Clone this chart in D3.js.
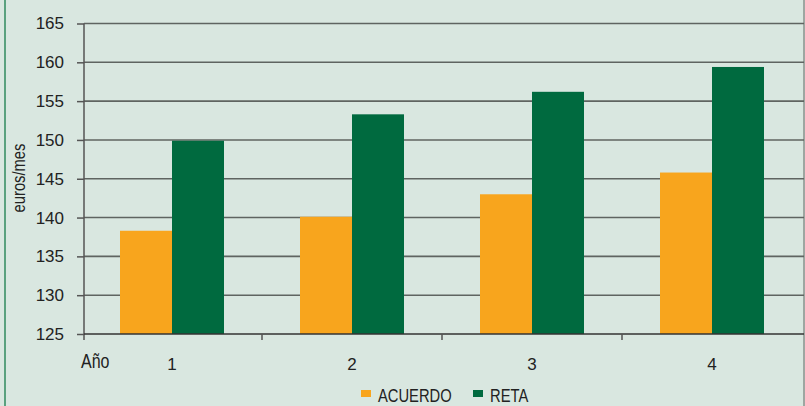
<!DOCTYPE html>
<html>
<head>
<meta charset="utf-8">
<script src="https://cdn.jsdelivr.net/npm/d3@7"></script>
<style>
  body { margin: 0; background: #d9e7e0; }
  svg { display: block; font-family: "Liberation Sans", Arial, sans-serif; }
</style>
</head>
<body>
<script>
const years = ["1", "2", "3", "4"];
const series = ["ACUERDO", "RETA"];
const acuerdo = [138.3, 140.1, 143.0, 145.8];
const reta = [149.9, 153.3, 156.2, 159.4];
const yTicks = [125, 130, 135, 140, 145, 150, 155, 160, 165];
const colors = ["#f8a51d", "#006a3f"];

const W = 805, H = 406;
const squeeze = 0.82; // condensed look, the narrow face is not installed
const svg = d3.select("body").append("svg").attr("width", W).attr("height", H);

svg.append("rect").attr("width", W).attr("height", H).attr("fill", "#d9e7e0");
svg.append("line").attr("x1", 5).attr("x2", 5).attr("y1", 0).attr("y2", H)
    .attr("stroke", "#2f8a5e").attr("stroke-width", 1.5);
svg.append("line").attr("x1", 804).attr("x2", 804).attr("y1", 0).attr("y2", H)
    .attr("stroke", "#8a918d").attr("stroke-width", 1.5);

const x = d3.scaleBand().domain(years).range([82, 802]);
const inner = d3.scaleBand().domain(series).range([x.bandwidth() / 2 - 52, x.bandwidth() / 2 + 52]);
const y = d3.scaleLinear().domain([125, 165]).range([334, 23.5]);

// gridlines
svg.append("g").selectAll("line").data(yTicks.slice(1)).join("line")
    .attr("x1", 84).attr("x2", 804)
    .attr("y1", d => y(d)).attr("y2", d => y(d))
    .attr("stroke", "#5f6461").attr("stroke-width", 1.6);

// bars
const rows = years.map((yr, i) => ({year: yr, vals: [acuerdo[i], reta[i]]}));
svg.append("g").selectAll("g").data(rows).join("g")
    .attr("transform", d => `translate(${x(d.year)},0)`)
  .selectAll("rect").data(d => d.vals.map((v, j) => ({key: series[j], v, j})))
  .join("rect")
    .attr("x", d => inner(d.key))
    .attr("width", inner.bandwidth())
    .attr("y", d => y(d.v))
    .attr("height", d => y(125) - y(d.v))
    .attr("fill", d => colors[d.j]);

// y axis
const yAxis = svg.append("g").attr("transform", "translate(84,0)")
    .call(d3.axisLeft(y).tickValues(yTicks).tickSize(7).tickPadding(13));
yAxis.select(".domain").attr("d", `M0,${y(165)}V340`).attr("stroke", "#555").attr("stroke-width", 1.5);
yAxis.selectAll(".tick line").attr("stroke", "#555").attr("stroke-width", 1.5);
yAxis.selectAll("text").attr("font-size", 17).attr("fill", "#222").attr("font-family", "inherit");

// x axis baseline and separators
svg.append("line").attr("x1", 84).attr("x2", 804).attr("y1", y(125)).attr("y2", y(125))
    .attr("stroke", "#333").attr("stroke-width", 1.5);
svg.append("g").selectAll("line").data(years.slice(1)).join("line")
    .attr("x1", d => x(d)).attr("x2", d => x(d))
    .attr("y1", y(125)).attr("y2", 340)
    .attr("stroke", "#555").attr("stroke-width", 1.5);

svg.append("g").selectAll("text").data(years).join("text")
    .attr("x", d => x(d) + x.bandwidth() / 2)
    .attr("y", 370)
    .attr("text-anchor", "middle")
    .attr("font-size", 17).attr("fill", "#222")
    .text(d => d);

svg.append("text").attr("transform", `translate(81,368) scale(${squeeze},1)`)
    .attr("font-size", 19.5).attr("fill", "#222").text("Año");

svg.append("text")
    .attr("transform", `translate(25,178) rotate(-90) scale(${squeeze},1)`)
    .attr("text-anchor", "middle")
    .attr("font-size", 18).attr("fill", "#222")
    .text("euros/mes");

// legend
const legend = svg.append("g").selectAll("g").data(series).join("g")
    .attr("transform", (d, i) => `translate(${[361, 473][i]},0)`);
legend.append("rect").attr("y", 390).attr("width", 10).attr("height", 7)
    .attr("fill", (d, i) => colors[i]);
legend.append("text").attr("transform", `translate(17,402) scale(${squeeze},1)`)
    .attr("font-size", 18).attr("fill", "#222").text(d => d);
</script>
</body>
</html>
